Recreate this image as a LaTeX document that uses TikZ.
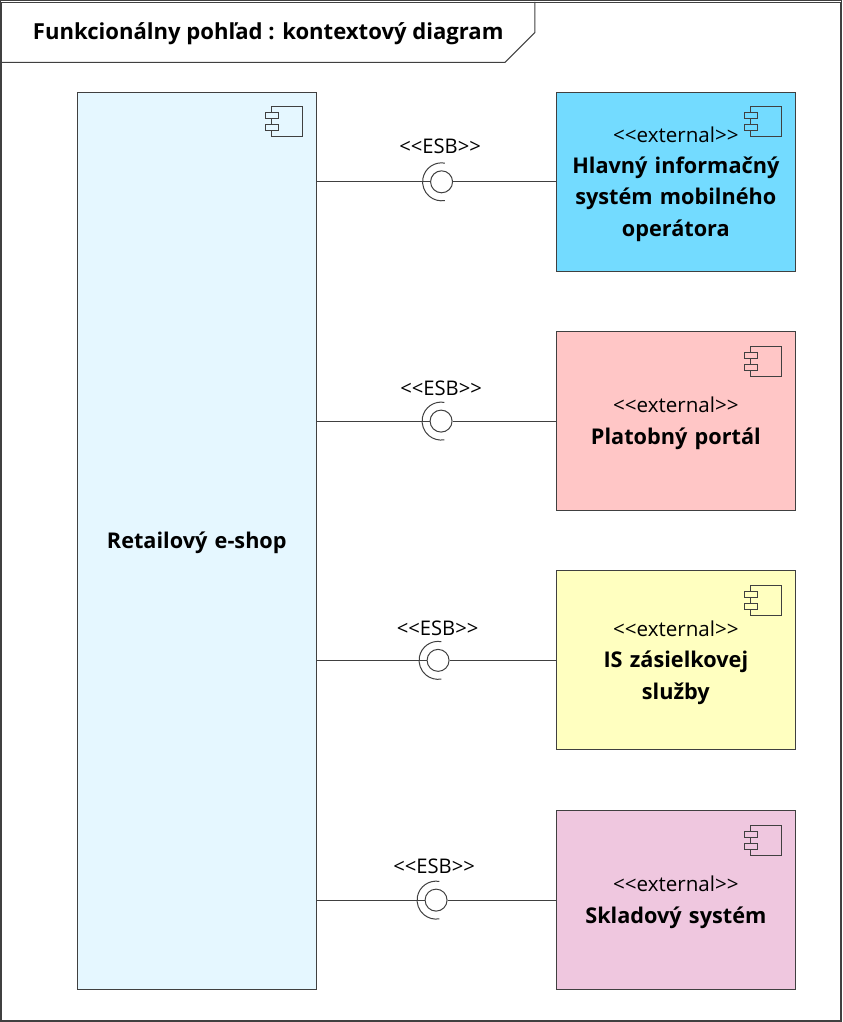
\documentclass[tikz,border=0pt]{standalone}
\usepackage{fontspec}
\setmainfont{Open Sans}
\definecolor{shopfill}{HTML}{E5F7FF}
\definecolor{hlavnyfill}{HTML}{73DBFF}
\definecolor{portalfill}{HTML}{FFC6C6}
\definecolor{kurierfill}{HTML}{FFFFC0}
\definecolor{skladfill}{HTML}{EFC7DF}
\definecolor{edgegray}{HTML}{404040}
\tikzset{
  x=1pt, y=1pt,
  every path/.style={line width=1pt, draw=edgegray},
  compbox/.style={draw=edgegray, minimum width=239pt, minimum height=179pt, inner sep=0pt, align=center, text width=235pt, font=\fontsize{21.7}{31.5}\selectfont\bfseries, execute at begin node={\rule{0pt}{20pt}}},
  esbdot/.style={circle, draw=edgegray, minimum size=22pt, inner sep=0pt, fill=white},
  esblabel/.style={font=\fontsize{20.2}{24}\selectfont, inner sep=0pt},
  compicon/.pic={
    \draw[pic actions] (-45,-15) rectangle (-14,-45);
    \draw[pic actions] (-51,-21) rectangle (-38,-27);
    \draw[pic actions] (-51,-33) rectangle (-38,-39);
  }
}
\newcommand{\ext}{{\fontsize{20.6}{31.5}\selectfont\mdseries <{}<external>{}>}}
\begin{document}
\begin{tikzpicture}
\useasboundingbox (0,0) rectangle (842,-1022);
\draw (1.5,-1.5) rectangle (840.5,-1020.5);
% title tab
\draw (1.5,-62) -- (505,-62) -- (535,-32) -- (535,-1.5);
\node[font=\fontsize{22.1}{26}\selectfont\bfseries, inner sep=0pt] (title) at (268,-33) {Funkcionálny pohľad : kontextový diagram};

\node[compbox, fill=shopfill, minimum height=898pt] (shop) at (196.5,-541) {Retailový e-shop};
\node[compbox, fill=hlavnyfill] (hlavny) at (676,-181.5) {\ext\\Hlavný informačný\\systém mobilného\\operátora};
\node[compbox, fill=portalfill] (portal) at (676,-421) {\ext\\Platobný portál};
\node[compbox, fill=kurierfill] (kurier) at (676,-660.5) {\ext\\IS zásielkovej\\služby};
\node[compbox, fill=skladfill] (sklad) at (676,-900.5) {\ext\\Skladový systém};

\pic[fill=shopfill] at (shop.north east) {compicon};
\pic[fill=hlavnyfill] at (hlavny.north east) {compicon};
\pic[fill=portalfill] at (portal.north east) {compicon};
\pic[fill=kurierfill] at (kurier.north east) {compicon};
\pic[fill=skladfill] at (sklad.north east) {compicon};

% interfaces
\node[esbdot] (esba) at (441.5,-181.5) {};
\node[esbdot] (esbb) at (441,-421) {};
\node[esbdot] (esbc) at (438,-660.5) {};
\node[esbdot] (esbd) at (436,-900.5) {};

\draw (esba) -- (hlavny);
\draw (esbb) -- (portal);
\draw (esbc) -- (kurier);
\draw (esbd) -- (sklad);
\draw (shop.east |- esba) -- (esba);
\draw (shop.east |- esbb) -- (esbb);
\draw (shop.east |- esbc) -- (esbc);
\draw (shop.east |- esbd) -- (esbd);

\draw (esba) ++(80:19) arc (80:280:19);
\draw (esbb) ++(80:19) arc (80:280:19);
\draw (esbc) ++(80:19) arc (80:280:19);
\draw (esbd) ++(80:19) arc (80:280:19);

\node[esblabel] (esbtexta) at (440,-146) {<{}<ESB>{}>};
\node[esblabel] (esbtextb) at (441,-388) {<{}<ESB>{}>};
\node[esblabel] (esbtextc) at (437.5,-628) {<{}<ESB>{}>};
\node[esblabel] (esbtextd) at (434,-867) {<{}<ESB>{}>};
\end{tikzpicture}
\end{document}
